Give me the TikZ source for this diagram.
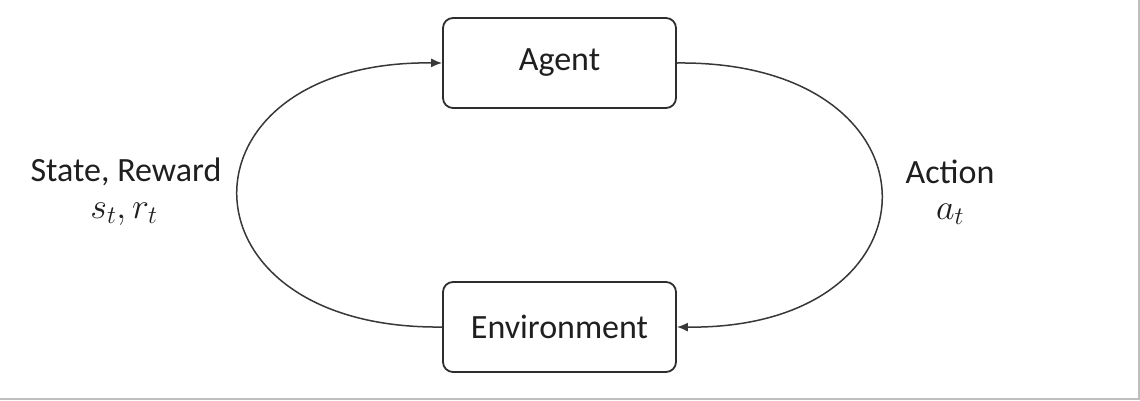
\RequirePackage{fix-cm}
\documentclass[tikz,border=0pt]{standalone}
\usepackage{fontspec}
\setmainfont{Carlito}
\usetikzlibrary{arrows.meta}
\begin{document}
\begin{tikzpicture}[x=1pt,y=-1pt,
  box/.style={draw=black!82,line width=1.8pt,rounded corners=10pt,minimum width=233pt,minimum height=90pt,inner sep=0pt,
    font=\fontsize{34}{40}\selectfont,text=black!88},
  link/.style={draw=black!78,line width=1.5pt},
  tip/.style={-{Latex[length=11pt,width=9pt]}},
  lbl/.style={font=\fontsize{34}{40}\selectfont,text=black!88,align=center},
  mlbl/.style={font=\fontsize{36}{42}\selectfont,text=black!88,align=center}]
\useasboundingbox (0,0) rectangle (1140,400);
\fill[white] (0,0) rectangle (1140,400);
\draw[black!25,line width=1.5pt] (0,399) -- (1139,399) -- (1139,0);

\node[box] (agent) at (559.5,63) {Agent};
\node[box] (env) at (559.5,327) {Environment};

% left loop: environment back to the agent
\draw[link,tip] (env.west) .. controls (170,330) and (170,60) .. (agent.west);
% right loop: agent acting on the environment
\draw[link,tip] (agent.east) .. controls (949,60) and (949,330) .. (env.east);

\node[lbl] (sr) at (126,172) {State, Reward};
\node[mlbl] (srm) at (124,214) {$s_t,r_t$};
\node[lbl] (act) at (950,172) {Action};
\node[mlbl] (actm) at (950,214) {$a_t$};
\end{tikzpicture}
\end{document}
